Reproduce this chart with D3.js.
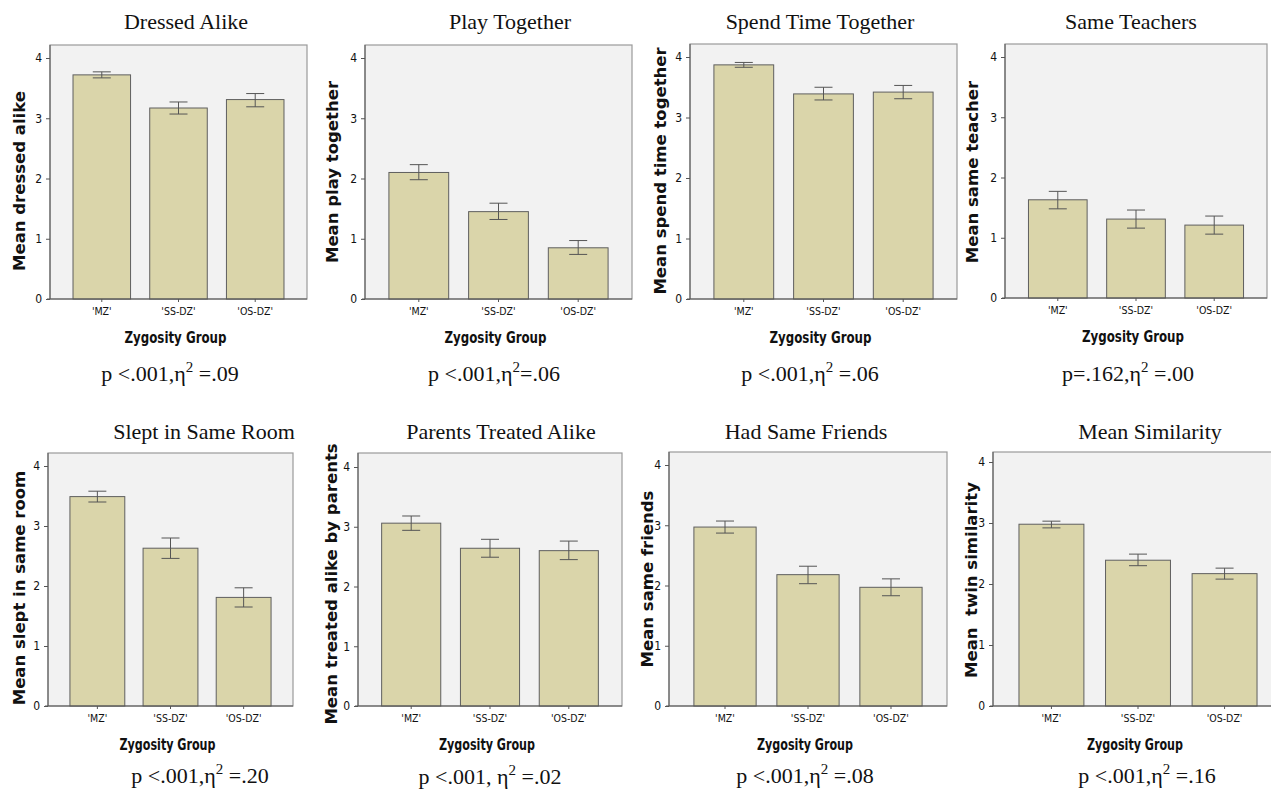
<!DOCTYPE html>
<html><head><meta charset="utf-8">
<script src="https://cdn.jsdelivr.net/npm/d3@7"></script>
<style>
body{margin:0;background:#fff;}
svg{display:block}
text{white-space:pre}
</style>
</head><body><svg id="c" width="1271" height="792"></svg>
<script>
// ---------- data ----------
const categories = ["'MZ'", "'SS-DZ'", "'OS-DZ'"];
const yTicks = [0, 1, 2, 3, 4];
const titles = ["Dressed Alike", "Play Together", "Spend Time Together", "Same Teachers",
                "Slept in Same Room", "Parents Treated Alike", "Had Same Friends", "Mean Similarity"];
const yLabels = ["Mean dressed alike", "Mean play together", "Mean spend time together", "Mean same teacher",
                 "Mean slept in same room", "Mean treated alike by parents", "Mean same friends", "Mean  twin similarity"];
const xLabel = "Zygosity Group";
const means  = [[3.72,3.17,3.31],[2.10,1.45,0.85],[3.87,3.39,3.42],[1.63,1.31,1.21],
                [3.49,2.63,1.81],[3.06,2.64,2.60],[2.97,2.18,1.97],[2.98,2.39,2.17]];
const ciLow  = [[3.67,3.07,3.19],[1.98,1.32,0.74],[3.83,3.29,3.31],[1.48,1.16,1.06],
                [3.40,2.46,1.65],[2.94,2.49,2.45],[2.87,2.03,1.83],[2.92,2.30,2.08]];
const ciHigh = [[3.77,3.27,3.41],[2.23,1.59,0.97],[3.91,3.50,3.53],[1.77,1.46,1.36],
                [3.58,2.80,1.97],[3.18,2.79,2.76],[3.07,2.32,2.11],[3.03,2.49,2.26]];
const statPre  = ["p <.001,", "p <.001,", "p <.001,", "p=.162,", "p <.001,", "p <.001, ", "p <.001,", "p <.001,"];
const statPost = [" =.09", "=.06", " =.06", " =.00", " =.20", " =.02", " =.08", " =.16"];

// ---------- layout (positions only) ----------
// [left, top, right, y0 (value 0), y4 (value 4)]
const boxes = [[50,45,307,299,58],[365,45,632,299,58],[690,44,957,299,57],[1005,44,1267,298,57],
               [48,453,293,706,466],[358,453,622,706,467],[669,452,947,706,465],[993,452,1283,706,462]];
const titlePos = [[186,29],[510,29],[820,29],[1131,29],[204,439],[501,439],[806,439],[1150,439]];
const yLabPos  = [[25,181],[338,172],[666,171],[978,172],[25,588],[337,584],[653,579],[977,580]];
const statPos  = [[170,381],[494,381],[810,381],[1128,381],[200,783],[490,784],[805,783],[1147,783]];
const xLabW    = [102,102,102,102,96,96,96,96];

const svg = d3.select("#c");

means.forEach((m, i) => {
  const [L, T, R, Y0, Y4] = boxes[i];
  const g = svg.append("g");
  const y = d3.scaleLinear().domain([0, 4]).range([Y0, Y4]);
  const x = d3.scaleBand().domain(categories).range([L, R]).paddingInner(0.25).paddingOuter(0.3);

  // plot background + frame
  g.append("rect").attr("x", L).attr("y", T).attr("width", R - L).attr("height", Y0 - T)
    .attr("fill", "#f2f2f2").attr("stroke", "#9a9a9a").attr("stroke-width", 1.2);

  // bars
  g.selectAll("rect.bar").data(categories).enter().append("rect").attr("class", "bar")
    .attr("x", c => x(c)).attr("width", x.bandwidth())
    .attr("y", (c, j) => y(m[j])).attr("height", (c, j) => Y0 - y(m[j]))
    .attr("fill", "#dad5aa").attr("stroke", "#5f5f5f").attr("stroke-width", 1);

  // error bars
  const cap = 9;
  categories.forEach((c, j) => {
    const cx = x(c) + x.bandwidth() / 2;
    const eg = g.append("g").attr("stroke", "#555").attr("stroke-width", 1);
    eg.append("line").attr("x1", cx).attr("x2", cx).attr("y1", y(ciLow[i][j])).attr("y2", y(ciHigh[i][j]));
    eg.append("line").attr("x1", cx - cap).attr("x2", cx + cap).attr("y1", y(ciLow[i][j])).attr("y2", y(ciLow[i][j]));
    eg.append("line").attr("x1", cx - cap).attr("x2", cx + cap).attr("y1", y(ciHigh[i][j])).attr("y2", y(ciHigh[i][j]));
  });

  // y axis
  const ya = g.append("g").attr("transform", `translate(${L},0)`)
    .call(d3.axisLeft(y).tickValues(yTicks).tickFormat(d3.format("d")).tickSize(4).tickPadding(4));
  ya.select(".domain").attr("stroke", "#555").attr("d", `M0,${T}V${Y0}`);
  ya.selectAll(".tick line").attr("stroke", "#555");
  ya.selectAll(".tick text").attr("font-family", "DejaVu Sans Condensed, DejaVu Sans, sans-serif")
    .attr("font-size", 12).attr("fill", "#111");

  // x axis
  const xa = g.append("g").attr("transform", `translate(0,${Y0})`)
    .call(d3.axisBottom(x).tickSize(3).tickPadding(6));
  xa.select(".domain").attr("stroke", "#555").attr("d", `M${L - 3},0H${R}`);
  xa.selectAll(".tick line").attr("stroke", "#555");
  xa.selectAll(".tick text").attr("font-family", "DejaVu Sans Condensed, DejaVu Sans, sans-serif")
    .attr("font-size", 10.5).attr("fill", "#111");

  // x label
  g.append("text").attr("x", x(categories[1]) + x.bandwidth() / 2 - 3)
    .attr("y", Y0 + 44).attr("text-anchor", "middle")
    .attr("font-family", "DejaVu Sans Condensed, DejaVu Sans, sans-serif").attr("font-weight", "bold")
    .attr("font-size", 16).attr("textLength", xLabW[i]).attr("lengthAdjust", "spacingAndGlyphs")
    .attr("fill", "#111").text(xLabel);

  // y label
  g.append("text").attr("transform", `translate(${yLabPos[i][0]},${yLabPos[i][1]}) rotate(-90)`)
    .attr("text-anchor", "middle").attr("font-family", "DejaVu Sans, sans-serif").attr("font-weight", "bold")
    .attr("font-size", 16.5).attr("fill", "#111").text(yLabels[i]);

  // title
  g.append("text").attr("x", titlePos[i][0]).attr("y", titlePos[i][1]).attr("text-anchor", "middle")
    .attr("font-family", "Liberation Serif, Times New Roman, serif").attr("font-size", 22)
    .attr("fill", "#111").text(titles[i]);

  // statistics
  const st = g.append("text").attr("x", statPos[i][0]).attr("y", statPos[i][1]).attr("text-anchor", "middle")
    .attr("font-family", "Liberation Serif, Times New Roman, serif").attr("font-size", 22).attr("fill", "#111");
  st.append("tspan").text(statPre[i] + "η");
  st.append("tspan").attr("dy", -9).attr("font-size", 15).text("2");
  st.append("tspan").attr("dy", 9).text(statPost[i]);
});
</script>
</body></html>
